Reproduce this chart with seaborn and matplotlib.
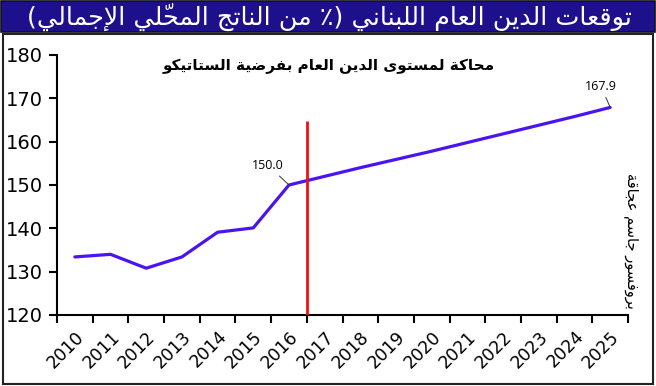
import numpy as np
import pandas as pd
import matplotlib
matplotlib.use("Agg")
import matplotlib.pyplot as plt
from matplotlib.patches import Rectangle
from matplotlib.ticker import FixedLocator
import seaborn as sns

# data
years = [str(y) for y in range(2010, 2026)]
debt = [133.4, 134.0, 130.8, 133.4, 139.1, 140.1, 150.0, 152.0,
        154.0, 155.9, 157.8, 159.8, 161.8, 163.8, 165.8, 167.9]
labelled_years = ["2016", "2025"]
split_year = "2016"   # last observed year, red line sits after it

title = "توقعات الدين العام اللبناني (٪ من الناتج المحلّي الإجمالي)"
subtitle = "محاكة لمستوى الدين العام بفرضية الستاتيكو"
credit = "بروفسور جاسم عجاقة"

# --- minimal arabic shaping (no arabic_reshaper in the sandbox) ---
FORMS = {  # isolated, final, initial, medial
    'ا': ('\uFE8D', '\uFE8E', None, None),
    'إ': ('\uFE87', '\uFE88', None, None),
    'ب': ('\uFE8F', '\uFE90', '\uFE91', '\uFE92'),
    'ة': ('\uFE93', '\uFE94', None, None),
    'ت': ('\uFE95', '\uFE96', '\uFE97', '\uFE98'),
    'ج': ('\uFE9D', '\uFE9E', '\uFE9F', '\uFEA0'),
    'ح': ('\uFEA1', '\uFEA2', '\uFEA3', '\uFEA4'),
    'د': ('\uFEA9', '\uFEAA', None, None),
    'ر': ('\uFEAD', '\uFEAE', None, None),
    'س': ('\uFEB1', '\uFEB2', '\uFEB3', '\uFEB4'),
    'ض': ('\uFEBD', '\uFEBE', '\uFEBF', '\uFEC0'),
    'ع': ('\uFEC9', '\uFECA', '\uFECB', '\uFECC'),
    'ف': ('\uFED1', '\uFED2', '\uFED3', '\uFED4'),
    'ق': ('\uFED5', '\uFED6', '\uFED7', '\uFED8'),
    'ك': ('\uFED9', '\uFEDA', '\uFEDB', '\uFEDC'),
    'ل': ('\uFEDD', '\uFEDE', '\uFEDF', '\uFEE0'),
    'م': ('\uFEE1', '\uFEE2', '\uFEE3', '\uFEE4'),
    'ن': ('\uFEE5', '\uFEE6', '\uFEE7', '\uFEE8'),
    'و': ('\uFEED', '\uFEEE', None, None),
    'ى': ('\uFEEF', '\uFEF0', None, None),
    'ي': ('\uFEF1', '\uFEF2', '\uFEF3', '\uFEF4'),
}
LAM_ALEF = {'ا': ('\uFEFB', '\uFEFC'), 'إ': ('\uFEF9', '\uFEFA')}
MARKS = {'\u0651'}
MIRROR = {'(': ')', ')': '('}


def shape(text):
    # group into clusters [base, marks]
    clusters = []
    for ch in text:
        if ch in MARKS and clusters:
            clusters[-1][1] += ch
        else:
            clusters.append([ch, ""])
    # lam-alef ligature
    merged = []
    i = 0
    while i < len(clusters):
        b, m = clusters[i]
        if b == 'ل' and i + 1 < len(clusters) and clusters[i + 1][0] in LAM_ALEF:
            merged.append([('LA', clusters[i + 1][0]), m + clusters[i + 1][1]])
            i += 2
        else:
            merged.append([b, m])
            i += 1

    def is_letter(b):
        return isinstance(b, tuple) or b in FORMS

    def joins_next(b):
        return (not isinstance(b, tuple)) and b in FORMS and FORMS[b][2] is not None

    out = []
    for k, (b, m) in enumerate(merged):
        prev_b = merged[k - 1][0] if k > 0 else None
        next_b = merged[k + 1][0] if k + 1 < len(merged) else None
        cp = prev_b is not None and joins_next(prev_b) and is_letter(b)
        cn = joins_next(b) and next_b is not None and is_letter(next_b)
        if isinstance(b, tuple):
            g = LAM_ALEF[b[1]][1 if cp else 0]
        elif b in FORMS:
            f = FORMS[b]
            g = f[3] if (cp and cn) else f[1] if cp else f[2] if cn else f[0]
        else:
            g = MIRROR.get(b, b)
        out.append(g + m)
    return "".join(reversed(out))


# --- figure ---
W, H = 656, 386
sns.set_style("white")
plt.rcParams["font.family"] = ["DejaVu Sans"]
plt.rcParams.update({"text.color": "black", "xtick.color": "black", "ytick.color": "black"})
fig = plt.figure(figsize=(W / 100, H / 100), dpi=100)


def fx(px):
    return px / W


def fy(py):
    return 1 - py / H


# title bar and frame (behind the axes)
fig.patches.append(Rectangle((fx(1), fy(32)), fx(654), 31 / H, transform=fig.transFigure,
                             facecolor="#1E0F8C", edgecolor="#111111", lw=1.2, zorder=-2))
fig.patches.append(Rectangle((fx(3), fy(384)), fx(650), 350 / H, transform=fig.transFigure,
                             facecolor="white", edgecolor="#222222", lw=1.5, zorder=-2))
fig.text(fx(329), fy(17), shape(title), color="white", fontsize=18.3,
         ha="center", va="center")

ax = fig.add_axes([fx(57), fy(315), fx(628 - 57), (315 - 55) / H])
ax.set_facecolor("none")

df = pd.DataFrame({"pos": np.arange(len(years)), "debt": debt})
sns.lineplot(data=df, x="pos", y="debt", ax=ax, color="#4A14F2", lw=2.3)

ax.set_xlim(-0.5, len(years) - 0.5)
ax.set_ylim(120, 180)
ax.set_yticks(np.arange(120, 181, 10))
ax.set_xticks(df["pos"])
ax.set_xticklabels(years, rotation=45, ha="right", va="top", rotation_mode="anchor")
ax.xaxis.set_minor_locator(FixedLocator(np.arange(-0.5, len(years), 1.0)))
ax.tick_params(axis="x", which="major", length=0, pad=9, labelsize=12.5)
ax.tick_params(axis="x", which="minor", length=6, width=1.5, color="black", direction="out", bottom=True)
ax.tick_params(axis="y", length=6, width=1.5, color="black", direction="out", left=True,
               labelsize=14, pad=4)
ax.set_xlabel("")
ax.set_ylabel("")
for s in ["top", "right"]:
    ax.spines[s].set_visible(False)
for s in ["left", "bottom"]:
    ax.spines[s].set_color("black")
    ax.spines[s].set_linewidth(1.5)

# red split line
split = years.index(split_year) + 0.5
ax.vlines(split, 120, 164.8, color="#F01010", lw=2.0, zorder=3)

# value labels
offsets = {"2016": (-15, 9.5), "2025": (-6.5, 10.5)}
for y in labelled_years:
    i = years.index(y)
    ax.annotate(f"{debt[i]:.1f}", xy=(i, debt[i]), xytext=offsets[y], textcoords="offset points",
                fontsize=9, ha="center", va="bottom", family=["Open Sans"],
                arrowprops=dict(arrowstyle="-", color="#333333", lw=0.7, shrinkA=1, shrinkB=0))

fig.text(fx(329), fy(66), shape(subtitle), fontsize=11, fontweight="bold",
         ha="center", va="center")
fig.text(fx(631), fy(241), shape(credit), fontsize=10.5, rotation=270,
         ha="center", va="center")

fig.savefig("out.png", dpi=100)
